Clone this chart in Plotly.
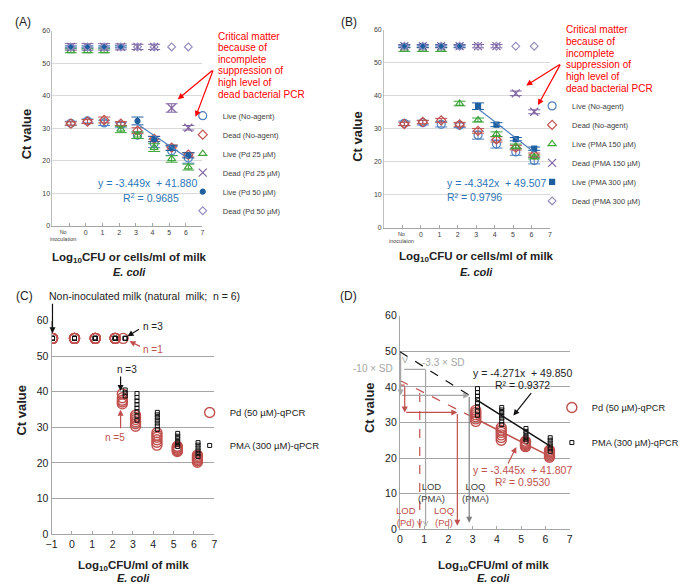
import plotly.graph_objects as go

W, H = 686, 584
FONT = "Arial, Liberation Sans, sans-serif"

# ---------------- (A) Pd treatment, spiked milk ----------------
a_x = [-0.9, 0.1, 1.1, 2.1, 3.1, 4.1, 5.15, 6.15]   # -1 = no inoculation
a_live_none = [31.5, 32.2, 31.6, 31.0, 27.8, 25.3, 23.0, 20.8]
a_live_none_sd = [0.6, 0.6, 0.8, 0.7, 1.0, 1.3, 1.4, 1.6]
a_dead_none = [31.4, 32.0, 32.5, 31.4, 29.2, 26.7, 24.0, 21.8]
a_dead_none_sd = [0.5, 0.6, 0.9, 0.6, 0.9, 0.8, 0.8, 0.7]
a_live_pd25 = [53.8, 53.8, 53.8, 29.6, 27.8, 24.0, 20.5, 18.0]
a_live_pd25_sd = [0.6, 0.6, 0.6, 1.0, 1.0, 1.2, 1.0, 0.9]
a_dead_pd25 = [55.0, 55.0, 55.0, 55.0, 55.0, 55.0, 36.2, 30.1]
a_dead_pd25_sd = [1.0, 1.0, 1.0, 0.9, 0.8, 0.8, 1.3, 0.7]
a_live_pd50 = [55.0, 55.0, 55.0, 55.0, 32.2, 26.6, 23.9, 21.6]
a_live_pd50_sd = [0.3, 0.3, 0.3, 0.3, 1.2, 0.8, 0.8, 0.8]
a_dead_pd50 = [55.0, 55.0, 55.0, 55.0, 55.0, 55.0, 55.0, 55.0]
a_fit = (-3.449, 41.880, "0.9685")

# ---------------- (B) PMA treatment, spiked milk ----------------
b_x = [-0.9, 0.1, 1.1, 2.1, 3.1, 4.1, 5.15, 6.15]
b_live_none = [31.6, 31.8, 31.3, 31.0, 28.0, 25.3, 22.9, 20.3]
b_live_none_sd = [0.7, 0.7, 0.8, 0.7, 1.2, 1.2, 1.0, 1.0]
b_dead_none = [31.4, 32.0, 32.5, 31.3, 29.3, 26.7, 24.2, 22.0]
b_dead_none_sd = [0.5, 0.5, 0.6, 0.6, 0.7, 0.8, 0.7, 0.6]
b_live_pma150 = [54.0, 54.0, 54.0, 37.6, 32.6, 28.3, 24.6, 21.4]
b_live_pma150_sd = [0.6, 0.6, 0.6, 0.7, 0.6, 0.7, 0.7, 0.6]
b_dead_pma150 = [55.0, 55.0, 55.0, 55.0, 55.0, 55.0, 40.7, 35.1]
b_dead_pma150_sd = [0.5, 0.5, 0.5, 0.5, 0.5, 0.5, 0.7, 0.6]
b_live_pma300 = [55.0, 55.0, 55.0, 55.0, 36.8, 31.2, 26.8, 23.9]
b_live_pma300_sd = [0.3, 0.3, 0.3, 0.3, 1.0, 0.6, 0.5, 0.5]
b_dead_pma300 = [55.0, 55.0, 55.0, 55.0, 55.0, 55.0, 55.0, 55.0]
b_fit = (-4.342, 49.507, "0.9796")

# ---------------- (C)/(D) natural milk, individual Ct values ----------------
pd_cols_x = [-0.95, 0.13, 1.15, 2.13, 2.52, 2.48, 3.13, 4.18, 5.18, 6.17]
pd_cols_ct = [
    [55, 55, 55, 55, 55, 55],
    [55, 55, 55, 55, 55, 55],
    [55, 55, 55, 55, 55, 55],
    [55, 55, 55, 55, 55, 55],
    [55],
    [36.6, 37.1, 37.6, 38.3, 39.4],
    [30.3, 31.0, 31.6, 32.2, 32.8, 33.4],
    [25.0, 25.8, 26.5, 27.2, 27.8, 28.5],
    [23.2, 23.5, 23.8, 24.1, 24.4, 24.7],
    [20.2, 20.6, 21.0, 21.4, 21.8, 22.2],
]
pma_cols_x = [-0.95, 0.13, 1.15, 2.13, 2.62, 2.62, 3.2, 4.2, 5.2, 6.2]
pma_cols_ct = [
    [55, 55, 55, 55, 55, 55],
    [55, 55, 55, 55, 55, 55],
    [55, 55, 55, 55, 55, 55],
    [55, 55, 55, 55, 55, 55],
    [55, 55, 55],
    [38.8, 39.7, 40.5],
    [32.0, 33.2, 34.4, 35.4, 36.4, 37.4, 38.4, 39.5],
    [29.4, 30.4, 31.2, 32.0, 32.8, 33.5, 34.2],
    [24.6, 25.3, 26.0, 26.8, 27.5, 28.3],
    [21.8, 22.6, 23.4, 24.2, 25.0, 25.7],
]
pd_fit = (-3.445, 41.807, "0.9530")
pma_fit = (-4.271, 49.850, "0.9372")
# limits of detection / quantification (log10 CFU/ml) and matching Ct cut-offs
lod_pma, loq_pma, lod_pd, loq_pd = 1.06, 2.86, 0.82, 2.37
ct_lod_pma, ct_loq_pma, ct_lod_pd, ct_loq_pd = 44.9, 37.6, 38.3, 32.8


def px(x):
    return x / W


def py(y):
    return 1 - y / H


def flatten(cols_x, cols_ct, xmin=None):
    xs, ys = [], []
    for x, cts in zip(cols_x, cols_ct):
        if xmin is not None and x < xmin:
            continue
        xs += [x] * len(cts)
        ys += list(cts)
    return xs, ys


fig = go.Figure()


def series(x, y, sd, name, symbol, color, size, ax, legend, lw=1.2):
    fig.add_trace(go.Scatter(
        x=x, y=y, name=name, mode="markers", legend=legend, legendgroup=legend + name,
        xaxis="x" + ax, yaxis="y" + ax,
        marker=dict(symbol=symbol, size=size, color=color, line=dict(color=color, width=lw)),
        error_y=dict(type="data", array=sd, color=color, thickness=1, width=6) if sd else None,
    ))


BLUE, RED, GREEN, PURPLE, DKBLUE, LILAC = "#4f81bd", "#c0504d", "#3fa53a", "#8064a2", "#1f5fa0", "#958cc0"

# (A)
series(a_x, a_live_none, a_live_none_sd, "Live (No-agent)", "circle-open", BLUE, 8, "", "legend")
series(a_x, a_dead_none, a_dead_none_sd, "Dead (No-agent)", "diamond-open", RED, 7, "", "legend")
series(a_x, a_live_pd25, a_live_pd25_sd, "Live (Pd 25 µM)", "triangle-up-open", GREEN, 7, "", "legend")
series(a_x, a_dead_pd25, a_dead_pd25_sd, "Dead (Pd 25 µM)", "x-thin-open", PURPLE, 8, "", "legend")
series(a_x, a_live_pd50, a_live_pd50_sd, "Live (Pd 50 µM)", "circle", DKBLUE, 5, "", "legend")
series(a_x, a_dead_pd50, None, "Dead (Pd 50 µM)", "diamond-open", LILAC, 6, "", "legend")
fx = [a_x[4], a_x[-1]]
fig.add_trace(go.Scatter(x=fx, y=[a_fit[0] * v + a_fit[1] for v in fx], mode="lines", showlegend=False,
                         line=dict(color=BLUE, width=1.2), xaxis="x", yaxis="y"))

# (B)
series(b_x, b_live_none, b_live_none_sd, "Live (No-agent)", "circle-open", BLUE, 8, "2", "legend2")
series(b_x, b_dead_none, b_dead_none_sd, "Dead (No-agent)", "diamond-open", RED, 7, "2", "legend2")
series(b_x, b_live_pma150, b_live_pma150_sd, "Live (PMA 150 µM)", "triangle-up-open", GREEN, 7, "2", "legend2")
series(b_x, b_dead_pma150, b_dead_pma150_sd, "Dead (PMA 150 µM)", "x-thin-open", PURPLE, 8, "2", "legend2")
series(b_x, b_live_pma300, b_live_pma300_sd, "Live (PMA 300 µM)", "square", DKBLUE, 5, "2", "legend2")
series(b_x, b_dead_pma300, None, "Dead (PMA 300 µM)", "diamond-open", LILAC, 6, "2", "legend2")
fx = [b_x[4], b_x[-1]]
fig.add_trace(go.Scatter(x=fx, y=[b_fit[0] * v + b_fit[1] for v in fx], mode="lines", showlegend=False,
                         line=dict(color=BLUE, width=1.2), xaxis="x2", yaxis="y2"))

# (C)
cx, cy = flatten(pd_cols_x, pd_cols_ct)
series(cx, cy, None, "Pd (50 µM)-qPCR", "circle-open", RED, 10, "3", "legend3", lw=1.4)
cx, cy = flatten(pma_cols_x, pma_cols_ct)
series(cx, cy, None, "PMA (300 µM)-qPCR", "square-open", "#111111", 4, "3", "legend3", lw=1)

# (D)
dx, dy = flatten(pd_cols_x, pd_cols_ct, xmin=3)
series(dx, dy, None, "Pd (50 µM)-qPCR", "circle-open", RED, 10, "4", "legend4", lw=1.4)
dx2, dy2 = flatten(pma_cols_x, pma_cols_ct, xmin=3)
series(dx2, dy2, None, "PMA (300 µM)-qPCR", "square-open", "#111111", 4, "4", "legend4", lw=1)
for fit, col, xs in [(pma_fit, "#111111", dx2), (pd_fit, RED, dx)]:
    lo, hi = min(xs), max(xs)
    fig.add_trace(go.Scatter(x=[lo, hi], y=[fit[0] * lo + fit[1], fit[0] * hi + fit[1]], mode="lines",
                             showlegend=False, line=dict(color=col, width=1.5), xaxis="x4", yaxis="y4"))
    fig.add_trace(go.Scatter(x=[0, lo], y=[fit[1], fit[0] * lo + fit[1]], mode="lines",
                             showlegend=False, line=dict(color=col, width=1.2, dash="dash"),
                             xaxis="x4", yaxis="y4"))

# ---------------- axes ----------------
small_x = dict(showgrid=False, zeroline=False, showline=True, linecolor="#a6a6a6", ticks="inside",
               ticklen=3, tickcolor="#a6a6a6", tickfont=dict(size=7, color="#404040"))
small_y = dict(range=[0, 60], dtick=10, showgrid=True, gridcolor="#d9d9d9", zeroline=False, showline=True,
               linecolor="#bfbfbf", ticks="", tickfont=dict(size=7, color="#404040"))
big_x = dict(showgrid=False, zeroline=False, showline=True, linecolor="#a6a6a6", ticks="inside",
             ticklen=3, tickcolor="#a6a6a6", dtick=1, tickfont=dict(size=10.5, color="#222222"))
big_y = dict(range=[0, 60], dtick=10, showgrid=True, gridcolor="#a6a6a6", zeroline=False, showline=True,
             linecolor="#a6a6a6", ticks="", tickfont=dict(size=10.5, color="#222222"))
int_ticks = list(range(-1, 8))
int_text = [""] + [str(v) for v in range(0, 8)]

fig.update_layout(
    width=W, height=H, margin=dict(l=0, r=0, t=0, b=0),
    paper_bgcolor="white", plot_bgcolor="white",
    font=dict(family=FONT, color="#222222"),
    xaxis=dict(domain=[px(39), px(191)], range=[-2, 7], tickvals=int_ticks, ticktext=int_text, anchor="y", **small_x),
    yaxis=dict(domain=[py(216), py(17)], anchor="x", **small_y),
    xaxis2=dict(domain=[px(375), px(543)], range=[-2, 7], tickvals=int_ticks, ticktext=int_text, anchor="y2", **small_x),
    yaxis2=dict(domain=[py(218), py(16)], anchor="x2", **small_y),
    xaxis3=dict(domain=[px(38), px(203)], range=[-1, 7], anchor="y3", **big_x),
    yaxis3=dict(domain=[py(531), py(313)], anchor="x3", **big_y),
    xaxis4=dict(domain=[px(391), px(563)], range=[0, 7], anchor="y4", **big_x),
    yaxis4=dict(domain=[py(526), py(308)], anchor="x4", **big_y),
)

leg_common = dict(xanchor="left", yanchor="top", bgcolor="rgba(0,0,0,0)", traceorder="grouped")
fig.update_layout(
    legend=dict(x=px(171), y=py(89), font=dict(size=7.5, color="#404040"), tracegroupgap=0, **leg_common),
    legend2=dict(x=px(525), y=py(79), font=dict(size=7.5, color="#404040"), tracegroupgap=0, **leg_common),
    legend3=dict(x=px(178), y=py(392), font=dict(size=9.5, color="#222222"), tracegroupgap=14, **leg_common),
    legend4=dict(x=px(545), y=py(387), font=dict(size=9.2, color="#222222"), tracegroupgap=16, **leg_common),
)

# ---------------- annotations ----------------
ann = []


def note(x, y, text, size=10, color="#222222", xanchor="center", **kw):
    ann.append(dict(x=px(x), y=py(y), xref="paper", yref="paper", text=text, showarrow=False,
                    xanchor=xanchor, yanchor="middle", font=dict(size=size, color=color, family=FONT), **kw))


def arrow(hx, hy, tx, ty, color, head=2, width=1.2):
    ann.append(dict(x=px(hx), y=py(hy), xref="paper", yref="paper", ax=tx - hx, ay=ty - hy, text="",
                    showarrow=True, arrowhead=head, arrowsize=1, arrowwidth=width, arrowcolor=color))


def darrow(hx, hy, tx, ty, color, head=2, width=1.2):
    ann.append(dict(x=hx, y=hy, xref="x4", yref="y4", ax=tx, ay=ty, axref="x4", ayref="y4", text="",
                    showarrow=True, arrowhead=head, arrowsize=1, arrowwidth=width, arrowcolor=color))


def dnote(x, y, text, size, color):
    ann.append(dict(x=x, y=y, xref="x4", yref="y4", text=text, showarrow=False,
                    font=dict(size=size, color=color, family=FONT)))


for lab, x, y in [("(A)", 9, 8), ("(B)", 339, 8), ("(C)", 11, 288), ("(D)", 339, 288)]:
    note(x, y, lab, size=12)

crit = ["Critical matter", "because of", "incomplete", "suppression of", "high level of", "dead bacterial PCR"]
for x0, y0, step, heads in [(205, 22.7, 11.8, [(166, 87), (184, 105)]), (557, 16, 12, [(519, 73), (531, 93)])]:
    for i, line in enumerate(crit):
        note(x0, y0 + i * step, line, size=10, color="#ff0000", xanchor="left")
    for hx, hy in heads:
        arrow(hx, hy, x0 - 3, y0 + 3 * step - 1, "#ff0000")

EQB = "#2e75b6"
note(135, 173, f"y = {a_fit[0]:.3f}x  + {a_fit[1]:.3f}", size=10.5, color=EQB)
note(139, 187, f"R<sup>2</sup> = {a_fit[2]}", size=10.5, color=EQB)
note(437, 173, f"y = {b_fit[0]:.3f}x  + {b_fit[1]:.3f}", size=10.5, color=EQB, xanchor="left")
note(437, 187, f"R² = {b_fit[2]}", size=10.5, color=EQB, xanchor="left")

note(50, 226, "No<br>inoculation", size=5.5, color="#404040")
note(393, 228, "No<br>inoculaion", size=5.5, color="#404040")

for cx0, y1, y2 in [(117, 249, 263), (469, 248, 263), (121, 564, 576), (486, 564, 576)]:
    t = "Log<sub>10</sub>CFU or cells/ml of milk" if y1 < 300 else "Log<sub>10</sub>CFU/ml of milk"
    note(cx0, y1, f"<b>{t}</b>", size=11.5)
    note(cx0, y2, "<b><i>E. coli</i></b>", size=11)

for x, y in [(13, 122), (348, 125), (8, 404), (360, 402)]:
    note(x, y, "<b>Ct value</b>", size=13, textangle=-90)

# (C) call-outs
note(33, 288, "Non-inoculated milk (natural  milk;  n = 6)", size=10.5, xanchor="left")
arrow(39, 326, 39, 295, "#111111")
note(129, 319, "n =3", size=10, xanchor="left")
arrow(115, 329, 128, 321, "#111111")
note(129, 343, "n =1", size=10, color=RED, xanchor="left")
arrow(117, 334, 129, 340, RED)
note(114, 363, "n =3", size=10)
arrow(108, 385, 108, 369, "#111111")
note(102, 432, "n =5", size=10, color=RED)
arrow(108, 404, 108, 424, RED)

# (D) equations
note(515, 367, f"y = {pma_fit[0]:.3f}x  + {pma_fit[1]:.3f}", size=10.5)
note(515, 379, f"R² = {pma_fit[2]}", size=10.5)
arrow(506, 410, 525, 386, "#111111")
note(515, 466, f"y = {pd_fit[0]:.3f}x  + {pd_fit[1]:.3f}", size=10.5, color=RED)
note(515, 478, f"R² = {pd_fit[2]}", size=10.5, color=RED)
arrow(509, 442, 500, 460, RED)

# (D) LOD / LOQ construction
GR = "#a6a6a6"
note(386, 362, "-10 × SD", size=10, color=GR, xanchor="right")
note(411, 356, "-3.3 × SD", size=10, color=GR, xanchor="left")
note(423, 489, "LOD<br>(PMA)", size=9.5, color="#404040")
note(468, 489, "LOQ<br>(PMA)", size=9.5, color="#404040")
note(397, 513, "LOD<br>(Pd)", size=9.5, color=RED)
note(436, 513, "LOQ<br>(Pd)", size=9.5, color=RED)

shapes = []


def seg(x0, y0, x1, y1, color, dash="solid", width=1.2):
    shapes.append(dict(type="line", xref="x4", yref="y4", x0=x0, y0=y0, x1=x1, y1=y1,
                       line=dict(color=color, width=width, dash=dash)))


# PMA (gray)
darrow(0.03, ct_loq_pma, 0.03, pma_fit[1], GR)
seg(0.18, ct_lod_pma, lod_pma, ct_lod_pma, GR)
seg(lod_pma, ct_lod_pma, lod_pma, 0.8, GR)
darrow(loq_pma, ct_loq_pma, 0.03, ct_loq_pma, GR)
darrow(loq_pma, 1.8, loq_pma, ct_loq_pma, "#808080")
dnote(0.2, 47.6, "V", 9, GR)
dnote(lod_pma, 1.6, "V", 8, GR)
# Pd (red)
seg(0, 40.5, 0.2, 40.5, RED)
darrow(0.2, ct_loq_pd, 0.2, 40.5, RED)
darrow(loq_pd, ct_loq_pd, 0.2, ct_loq_pd, RED)
darrow(loq_pd, 1.0, loq_pd, ct_loq_pd, RED)
seg(lod_pd, ct_lod_pd, lod_pd, 0.3, RED, dash="dash")
dnote(lod_pd, 1.6, "V", 8, RED)
dnote(-0.12, 38.6, "V", 8, RED)

fig.update_layout(annotations=ann, shapes=shapes)
fig.write_html("out.html")
